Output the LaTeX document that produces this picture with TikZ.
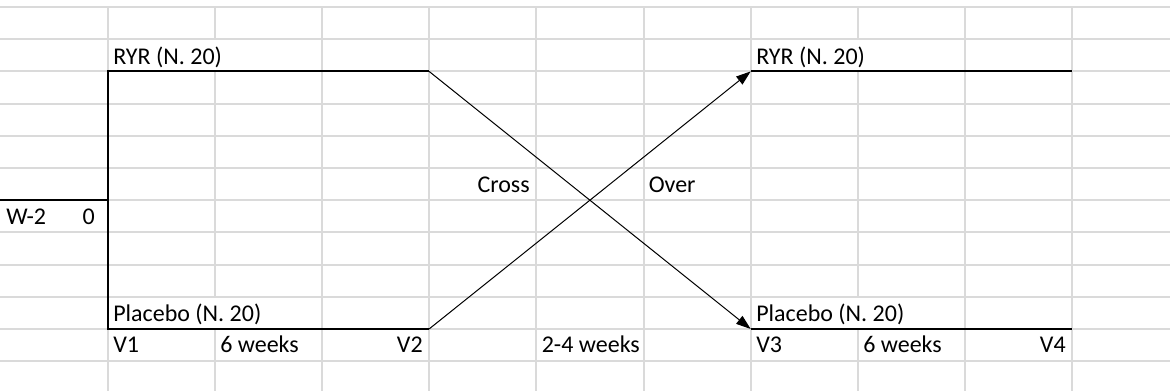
\documentclass[tikz,border=0pt]{standalone}
\usepackage{fontspec}
\setmainfont{Carlito}
\usetikzlibrary{arrows.meta}
\definecolor{gridgrey}{RGB}{218,218,218}
\begin{document}
\begin{tikzpicture}[x=0.75pt,y=-0.75pt,
  cell/.style={inner sep=0pt, font=\fontsize{18}{22}\selectfont},
  lbl/.style={cell, anchor=base west},
  rlbl/.style={cell, anchor=base east},
  gridline/.style={draw=gridgrey, line width=1.5pt},
  arm/.style={draw=black, line width=1.5pt},
  switch/.style={draw=black, line width=0.75pt, -{Triangle[length=11pt,width=7.5pt]}}]
\useasboundingbox (0,0) rectangle (1170,391);

% sheet grid: horizontal rules
\foreach \y in {7,39.2,71.4,103.6,135.8,168,200.2,232.4,264.6,296.8,329,361.2}
  \draw[gridline] (0,\y) -- (1170,\y);
% vertical rules (hidden where a label runs into the next cell)
\foreach \x in {107.5,321.9,429.1,536.3,643.5,750.7,965.1,1072.3}
  \draw[gridline] (\x,7) -- (\x,391);
\foreach \x in {214.7,857.9}{
  \draw[gridline] (\x,7) -- (\x,39.2);
  \draw[gridline] (\x,71.4) -- (\x,296.8);
  \draw[gridline] (\x,329) -- (\x,391);
}

% end points of the treatment arms
\coordinate (s) at (0,200.2);
\coordinate (j) at (107.5,200.2);
\coordinate (a1) at (107.5,71.4);
\coordinate (a2) at (429.1,71.4);
\coordinate (b1) at (107.5,329);
\coordinate (b2) at (429.1,329);
\coordinate (c1) at (750.7,71.4);
\coordinate (c2) at (1072.3,71.4);
\coordinate (d1) at (750.7,329);
\coordinate (d2) at (1072.3,329);

% labels
\node[lbl] (ryrA) at (113,65) {RYR (N. 20)};
\node[lbl] (plaA) at (113,321.5) {Placebo (N. 20)};
\node[lbl] (w2) at (6,225) {W-2};
\node[rlbl] (zero) at (95,225) {0};
\node[lbl] (v1) at (113,352.5) {V1};
\node[lbl] (wk1) at (220,352.5) {6 weeks};
\node[rlbl] (v2) at (423,352.5) {V2};
\node[rlbl] (cross) at (530,192.5) {Cross};
\node[lbl] (over) at (648.5,192.5) {Over};
\node[lbl] (gap) at (541.5,352.5) {2-4 weeks};
\node[lbl] (ryrB) at (756,65) {RYR (N. 20)};
\node[lbl] (plaB) at (756,321.5) {Placebo (N. 20)};
\node[lbl] (v3) at (756,352.5) {V3};
\node[lbl] (wk2) at (863,352.5) {6 weeks};
\node[rlbl] (v4) at (1066,352.5) {V4};

% first period
\draw[arm] (s) -- (j);
\draw[arm] (a2) -- (a1) -- (b1) -- (b2);
% second period
\draw[arm] (c1) -- (c2);
\draw[arm] (d1) -- (d2);
% cross-over
\draw[switch] (a2) -- (d1);
\draw[switch] (b2) -- (c1);
\end{tikzpicture}
\end{document}
